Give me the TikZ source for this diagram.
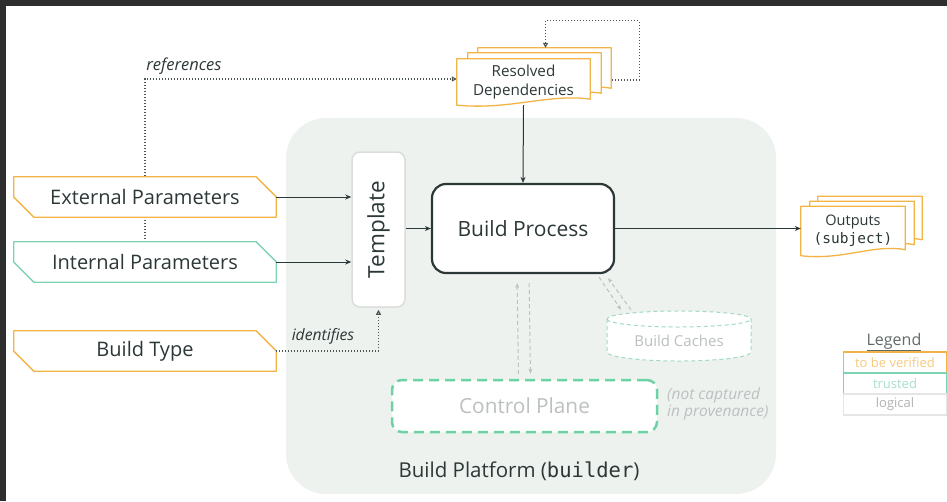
\documentclass[tikz,border=0pt]{standalone}
\usepackage{fontspec}
\setmainfont{Open Sans}
\setsansfont{Open Sans}
\setmonofont{DejaVu Sans Mono}
\usetikzlibrary{arrows.meta,calc}

\definecolor{frame}{HTML}{2E2E2E}
\definecolor{ink}{HTML}{2C3837}
\definecolor{verify}{HTML}{F3B445}
\definecolor{trusted}{HTML}{7ED4B1}
\definecolor{platfill}{HTML}{EEF2EF}
\definecolor{tplline}{HTML}{D9DDDC}
\definecolor{faint}{HTML}{BCC0C0}
\definecolor{cpgreen}{HTML}{6ED3A4}
\definecolor{cachegreen}{HTML}{9FDBC3}

\pgfdeclarelayer{back}
\pgfdeclarelayer{mid}
\pgfsetlayers{back,mid,main}

% font size and line spacing in pt
\newcommand\fs[2]{\fontsize{#1pt}{#2pt}\selectfont}

% input box with two cut corners (top right, bottom left)
\newcommand\chamferbox[2]{%
  \filldraw[#2, line width=1.3pt, fill=white, line join=round]
    (#1.north west) -- ([xshift=-20pt]#1.north east) -- ([yshift=-20pt]#1.north east)
    -- (#1.south east) -- ([xshift=20pt]#1.south west) -- ([yshift=20pt]#1.south west) -- cycle;}

% one sheet of a document stack, shifted by (#2,#3) from node #1
\newcommand\docsheet[3]{%
  \filldraw[verify, line width=1.3pt, fill=white, line join=round]
    let \p1=($(#1.north west)+(#2,#3)$), \p2=($(#1.south east)+(#2,#3)$) in
    (\x1,\y1) -- (\x2,\y1) -- (\x2,\y2+6pt)
    .. controls ({\x2-0.3*(\x2-\x1)},{\y2+12pt}) and ({\x1+0.4*(\x2-\x1)},{\y2-5pt}) .. (\x1,\y2) -- cycle;}

\begin{document}
\begin{tikzpicture}[x=1pt,y=-1pt,
  txt/.style={text=ink, inner sep=0pt},
  param/.style={txt, minimum width=262pt, minimum height=40pt, font=\fs{20}{24}},
  flow/.style={ink, line width=1pt, -{Stealth[length=6pt,width=5pt]}},
  refline/.style={ink!85, line width=1.1pt, dash pattern=on 1pt off 2pt,
                  -{Triangle[open,length=5pt,width=5pt]}},
  ctl/.style={faint, line width=1pt, dash pattern=on 4pt off 3pt,
              -{Stealth[length=5pt,width=4pt]}},
  lgbox/.style={minimum width=103pt, minimum height=21pt, inner sep=0pt,
                line width=1.2pt, fill=white, font=\fs{13}{15}},
]
\useasboundingbox (0,0) rectangle (947,501);
\fill[frame] (0,0) rectangle (947,6);
\fill[frame] (0,0) rectangle (6,501);

% build platform
\begin{pgfonlayer}{back}
  \node[fill=platfill, rounded corners=40pt, minimum width=490pt, minimum height=376pt]
    (plat) at (531,306) {};
\end{pgfonlayer}
\node[txt, font=\fs{20.5}{24}] (platlabel) at (519,471) {Build Platform (\texttt{builder})};

% inputs
\node[param] (ext) at (145,197) {External Parameters};
\node[param] (int) at (145,262) {Internal Parameters};
\node[param] (bt)  at (145,351) {Build Type};

% documents
\node[txt, minimum width=133pt, minimum height=46pt, align=center, font=\fs{15.2}{18.5}]
  (deps) at (523.5,82) {Resolved\\Dependencies};
\node[txt, minimum width=104pt, minimum height=49pt, align=center, font=\fs{14.5}{18}]
  (out) at (853,231) {Outputs\\\texttt{(subject)}};

% references link runs behind the parameter boxes
\begin{pgfonlayer}{mid}
  \draw[refline] (int.north) |- ([yshift=3pt]deps.west);
  \chamferbox{ext}{verify}
  \chamferbox{int}{trusted}
  \chamferbox{bt}{verify}
  \docsheet{deps}{21}{-11}
  \docsheet{deps}{11}{-6}
  \docsheet{deps}{0}{0}
  \docsheet{out}{17}{-10}
  \docsheet{out}{9}{-5}
  \docsheet{out}{0}{0}
\end{pgfonlayer}
\node[txt, font=\itshape\fs{16.5}{19}] (reflabel) at (184,66) {references};

% template and build process
\node[draw=tplline, fill=white, line width=1.5pt, rounded corners=8pt,
      minimum width=53pt, minimum height=155pt, inner sep=0pt] (tpl) at (378.5,229.5) {};
\node[txt, rotate=90, font=\fs{22.5}{26}] (tpltext) at (tpl.center) {Template};
\node[txt, draw=ink, fill=white, line width=2.2pt, rounded corners=14pt,
      minimum width=182pt, minimum height=89pt, font=\fs{21}{25}] (bp) at (523,228.5) {Build Process};

% build caches
\node[inner sep=0pt, minimum width=144pt, minimum height=50pt] (cache) at (679,336) {};
\begin{pgfonlayer}{mid}
  \filldraw[cachegreen, fill=white, line width=1pt, dash pattern=on 4pt off 3pt]
    (607,319) -- (607,352) arc[start angle=180, end angle=360, x radius=72pt, y radius=9pt]
    -- (751,319) arc[start angle=0, end angle=180, x radius=72pt, y radius=8pt] -- cycle;
  \draw[cachegreen, line width=1pt, dash pattern=on 4pt off 3pt]
    (607,319) arc[start angle=180, end angle=360, x radius=72pt, y radius=8pt];
\end{pgfonlayer}
\node[text=faint, inner sep=0pt, font=\fs{15}{18}] (cachetext) at (679,341) {Build Caches};

% control plane
\node[draw=cpgreen, fill=white, line width=2.5pt, dash pattern=on 10pt off 6pt,
      rounded corners=10pt, minimum width=265pt, minimum height=52pt,
      text=faint, font=\fs{20.8}{24}] (cp) at (524.5,406) {Control Plane};
\node[anchor=west, text=faint, align=left, inner sep=0pt, font=\itshape\fs{15.5}{17.5}]
  (cpnote) at (667,404) {(not captured\\in provenance)};

% main flow
\draw[flow] (ext.east) -- (ext.east -| tpl.west);
\draw[flow] (int.east) -- (int.east -| tpl.west);
\draw[flow] (tpl.east |- bp.west) -- (bp.west);
\draw[flow] (deps.south) -- (bp.north);
\draw[flow] (bp.east) -- (bp.east -| out.west);

% build type identifies the template
\draw[refline, shorten >=2pt] (bt.east) -| (tpl.south);
\node[txt, font=\itshape\fs{15.7}{18}] (idlabel) at (323,336) {identifies};

% dependencies resolving further dependencies
\coordinate (loopstart) at ($(deps.east)+(22,-2)$);
\draw[refline] (loopstart) -- ++(27,0) |- ($(deps.north)+(22,-38)$)
  -- ([xshift=22pt,yshift=11pt]deps.north);

% control and cache traffic
\draw[ctl, shorten <=5pt, shorten >=9pt] ([xshift=-6pt]cp.north) -- ([xshift=-6pt]bp.south);
\draw[ctl, shorten <=9pt, shorten >=5pt] ([xshift=6pt]bp.south) -- ([xshift=6pt]cp.north);
\draw[ctl] ([xshift=-16pt,yshift=-3pt]bp.south east) -- ([xshift=-58pt,yshift=1pt]cache.north);
\draw[ctl] ([xshift=-48pt,yshift=1pt]cache.north) -- ([xshift=-7pt,yshift=-4pt]bp.south east);

% legend
\node[text=ink!75, inner sep=0pt, font=\fs{16}{19}] (lgtitle) at (894,342) {\underline{Legend}};
\node[lgbox, draw=verify, text=verify!70] (lgv) at (895,362.5) {to be verified};
\node[lgbox, draw=trusted, text=trusted!70] (lgt) at (895,383.5) {trusted};
\node[lgbox, draw=black!10, text=black!30] (lgl) at (895,404.5) {logical};
\end{tikzpicture}
\end{document}
